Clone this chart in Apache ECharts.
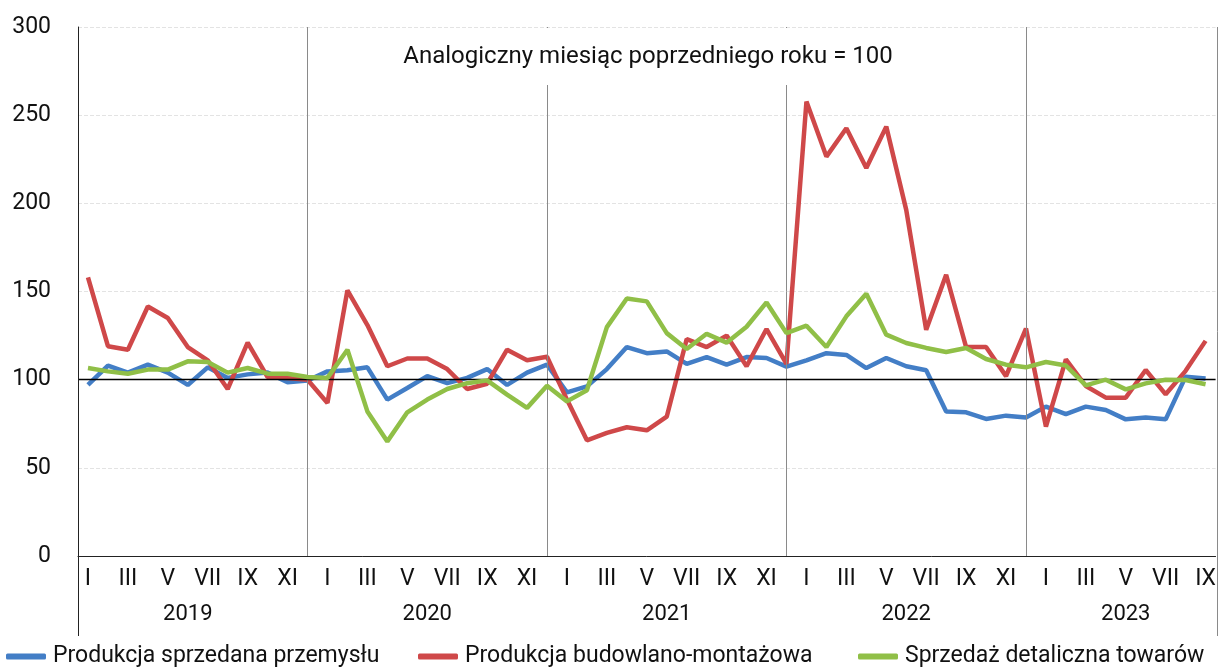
<!DOCTYPE html>
<html>
<head>
    <meta charset="utf-8">
    <title>ECharts</title>
    <script type="text/javascript" src="https://cdn.jsdelivr.net/npm/echarts@6/dist/echarts.min.js"></script>
</head>
<body style="margin:0">
<div id="main" style="width: 1219px;height:669px;"></div>
<script type="text/javascript">
    var myChart = echarts.init(document.getElementById('main'));

    // lata i miesiace na osi X
    var years = ['2019', '2020', '2021', '2022', '2023'];
    var monthsInYear = [12, 12, 12, 12, 9];
    var monthNames = ['I', 'II', 'III', 'IV', 'V', 'VI', 'VII', 'VIII', 'IX', 'X', 'XI', 'XII'];

    var seriesNames = ['Produkcja sprzedana przemysłu', 'Produkcja budowlano-montażowa', 'Sprzedaż detaliczna towarów'];

    // analogiczny miesiac poprzedniego roku = 100
    var industry = [
        97, 108, 104, 108.5, 104, 97, 107, 101, 103, 104, 98.5, 99.5,
        104.7, 105.3, 107, 88.7, 95.3, 102, 98, 101, 106, 97, 104, 108.5,
        92.8, 96.2, 106, 118.5, 115, 116, 109, 112.8, 108.5, 112.8, 112.3, 107.4,
        111, 115, 114, 106.6, 112.3, 107.6, 105.3, 82, 81.5, 77.7, 79.6, 78.5,
        84.7, 80.4, 84.7, 82.8, 77.5, 78.5, 77.5, 101.7, 100.6
    ];
    var construction = [
        158, 119, 117, 141.5, 135, 118.5, 111, 94.7, 121, 101.5, 101, 100,
        86.8, 150.6, 131, 107.6, 112, 112, 106, 94.7, 97.7, 117, 111, 113,
        88.7, 65.6, 69.8, 73, 71.3, 79, 123, 118.5, 125, 107.6, 128.7, 109,
        257.7, 226.5, 242.6, 220, 243.5, 196.3, 128.3, 159.5, 118.5, 118.5, 102, 129,
        73.4, 111.5, 96.4, 89.8, 89.8, 105.5, 91.7, 105, 122
    ];
    var retail = [
        106.6, 104.7, 103.4, 105.7, 105.7, 110.4, 110, 104, 106.6, 103.4, 103.4, 101.5,
        101, 117, 82, 65, 81.5, 88.7, 94.7, 98, 99.6, 91.5, 84, 96.5,
        87.7, 94, 129.8, 146, 144.4, 126.4, 117.4, 126, 121, 130, 143.8, 126.4,
        130.6, 118.5, 135.9, 148.7, 125.5, 120.8, 118, 115.7, 118, 111.7, 108.5, 107,
        110, 108, 96.8, 100, 94.5, 97.9, 100, 99.8, 97.4
    ];

    var colors = ['#437ec6', '#cf4849', '#90bf47'];
    var fontFamily = 'Roboto';

    // kategorie "rok|miesiac"
    var categories = [];
    var yearLabelIdx = {};   // indeks etykiety roku (srodek roku)
    var separators = [];     // grudzien kazdego roku
    for (var y = 0; y < years.length; y++) {
        var start = categories.length;
        for (var m = 0; m < monthsInYear[y]; m++) {
            categories.push(years[y] + '|' + monthNames[m]);
        }
        yearLabelIdx[start + Math.floor((monthsInYear[y] - 1) / 2)] = years[y];
        if (monthsInYear[y] === 12 && y < years.length - 1) {
            separators.push(start + 11);
        }
    }

    var markData = separators.map(function (idx) {
        return {xAxis: idx, lineStyle: {color: '#8a8a8a', width: 1, type: 'solid'}};
    });
    markData.push({yAxis: 100, lineStyle: {color: '#000', width: 1.3, type: 'solid'}});

    // legenda w trzech kolumnach
    var legendLeft = [6, 418, 858];
    var legends = seriesNames.map(function (name, i) {
        return {
            top: 645,
            left: legendLeft[i],
            padding: 0,
            icon: 'roundRect',
            itemWidth: 40,
            itemHeight: 6,
            itemGap: 0,
            textStyle: {fontSize: 23, color: '#111', padding: [0, 0, 0, 2]},
            data: [name]
        };
    });

    var option = {
        animation: false,
        textStyle: {fontFamily: fontFamily},
        grid: {
            left: 78,
            right: 1,
            top: 27,
            bottom: 113
        },
        xAxis: [{
            type: 'category',
            data: categories,
            boundaryGap: true,
            axisLine: {lineStyle: {color: '#222', width: 1}},
            axisTick: {
                alignWithLabel: true,
                length: 80,
                interval: function (idx) { return separators.indexOf(idx) >= 0; },
                lineStyle: {color: '#8a8a8a'}
            },
            axisLabel: {
                interval: 1,
                margin: 12,
                fontSize: 23,
                color: '#111',
                formatter: function (v) { return v.split('|')[1]; }
            }
        }, {
            type: 'category',
            data: categories,
            position: 'bottom',
            offset: 35,
            axisLine: {show: false},
            axisTick: {show: false},
            axisLabel: {
                interval: 0,
                margin: 12,
                fontSize: 22,
                color: '#111',
                formatter: function (v, idx) { return yearLabelIdx[idx] || ''; }
            }
        }],
        yAxis: {
            type: 'value',
            min: 0,
            max: 300,
            interval: 50,
            axisLine: {show: true, lineStyle: {color: '#222'}},
            axisTick: {show: false},
            splitLine: {lineStyle: {color: '#e3e3e3', type: 'dashed'}},
            axisLabel: {margin: 27, fontSize: 23, color: '#111'}
        },
        legend: legends,
        graphic: [
            // biale pole pod podpisem
            {type: 'rect', z: 100, shape: {x: 310, y: 28, width: 716, height: 57}, style: {fill: '#fff'}},
            {type: 'text', z: 101, x: 648, y: 57, style: {
                text: 'Analogiczny miesiąc poprzedniego roku = 100',
                font: '24px ' + fontFamily, fill: '#111', align: 'center', verticalAlign: 'middle'
            }},
            // przedluzenia ramek ponizej osi
            {type: 'line', z: 50, shape: {x1: 78.5, y1: 27, x2: 78.5, y2: 636}, style: {stroke: '#222', lineWidth: 1}},
            {type: 'line', z: 50, shape: {x1: 1217.5, y1: 27, x2: 1217.5, y2: 636}, style: {stroke: '#8a8a8a', lineWidth: 1}}
        ],
        series: [{
            name: seriesNames[0],
            type: 'line',
            data: industry,
            symbol: 'none',
            lineStyle: {color: colors[0], width: 4.5},
            itemStyle: {color: colors[0]},
            z: 3,
            markLine: {
                silent: true,
                symbol: 'none',
                label: {show: false},
                data: markData
            }
        }, {
            name: seriesNames[1],
            type: 'line',
            data: construction,
            symbol: 'none',
            lineStyle: {color: colors[1], width: 4.5},
            itemStyle: {color: colors[1]},
            z: 4
        }, {
            name: seriesNames[2],
            type: 'line',
            data: retail,
            symbol: 'none',
            lineStyle: {color: colors[2], width: 4.5},
            itemStyle: {color: colors[2]},
            z: 5
        }]
    };

    myChart.setOption(option);
</script>
</body>
</html>
